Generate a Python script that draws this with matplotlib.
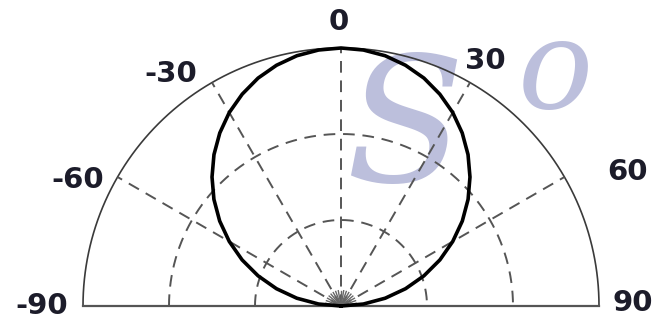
import numpy as np
import matplotlib.pyplot as plt

angles = [-90, -85, -80, -75, -70, -65, -60, -55, -50, -45, -40, -35, -30,
          -25, -20, -15, -10, -5, 0, 5, 10, 15, 20, 25, 30, 35, 40, 45,
          50, 55, 60, 65, 70, 75, 80, 85, 90]
radius = [0.0, 0.087, 0.174, 0.259, 0.342, 0.423, 0.50, 0.574, 0.643, 0.707,
          0.766, 0.819, 0.866, 0.906, 0.94, 0.966, 0.985, 0.996, 1.0,
          0.996, 0.985, 0.966, 0.94, 0.906, 0.866, 0.819, 0.766, 0.707,
          0.643, 0.574, 0.50, 0.423, 0.342, 0.259, 0.174, 0.087, 0.0]

spoke_angles = [-60, -30, 0, 30, 60]
ring_radii = [1/3, 2/3]
tick_labels = ['-90', '-60', '-30', '0', '30', '60', '90']
label_pos = [(-1.16, 0.0), (-1.02, 0.49), (-0.66, 0.90), (-0.01, 1.10),
             (0.56, 0.95), (1.11, 0.52), (1.13, 0.01)]

W, H = 657, 319
R = 258.0
cx, cy = 341.0, 13.0

fig = plt.figure(figsize=(W / 100, H / 100), dpi=100)
ax = fig.add_axes([0, 0, 1, 1])
ax.set_xlim(-cx / R, (W - cx) / R)
ax.set_ylim(-cy / R, (H - cy) / R)
ax.axis('off')

def pol(th_deg, r):
    th = np.radians(np.asarray(th_deg, dtype=float))
    r = np.asarray(r, dtype=float)
    return r * np.sin(th), r * np.cos(th)

# watermark
ax.text(0.25, 0.67, 'S', fontsize=125, fontstyle='italic', family='DejaVu Serif',
        color='#bcbfdc', ha='center', va='center', zorder=0)
ax.text(0.83, 0.90, 'o', fontsize=90, fontstyle='italic', family='DejaVu Serif',
        color='#bcbfdc', ha='center', va='center', zorder=0)

# outer arc and baseline
t = np.linspace(-90, 90, 361)
x, y = pol(t, np.ones_like(t))
ax.plot(x, y, color='#3a3a3a', lw=1.2, zorder=2)
ax.plot([-1, 1], [0, 0], color='#555555', lw=1.6, zorder=2)

# dashed rings
for rr in ring_radii:
    x, y = pol(t, np.full_like(t, rr))
    ax.plot(x, y, color='#555555', lw=1.4, ls=(0, (6, 4)), zorder=2)

# dashed spokes
for a in spoke_angles:
    x, y = pol([a, a], [0, 1])
    ax.plot(x, y, color='#555555', lw=1.4, ls=(0, (6, 4)), zorder=2)

# small fan near the origin
for a in range(-80, 81, 10):
    x, y = pol([a, a], [0.01, 0.06])
    ax.plot(x, y, color='#666666', lw=1.0, zorder=2)

# pattern
x, y = pol(angles, radius)
ax.plot(x, y, color='black', lw=2.6, zorder=3, solid_joinstyle='round')

for lab, (lx, ly) in zip(tick_labels, label_pos):
    ax.text(lx, ly, lab, fontsize=21, fontweight='bold', color='#1c1c2a',
            ha='center', va='center', zorder=4)

fig.savefig('out.png', dpi=100)
